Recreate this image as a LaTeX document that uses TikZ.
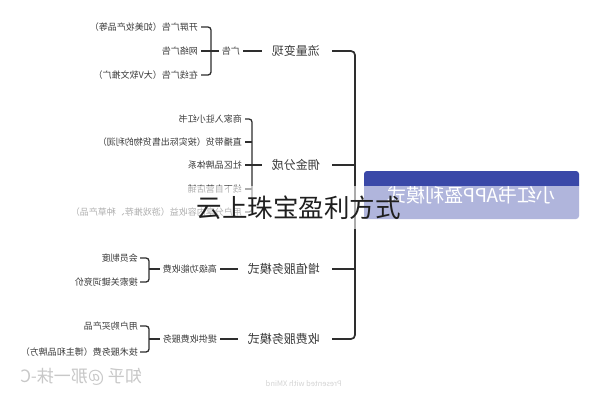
\documentclass[tikz,border=0pt]{standalone}
\usepackage{fontspec}
\setmainfont{Noto Sans CJK SC}
\definecolor{rootblue}{HTML}{3A48A8}
\definecolor{linec}{HTML}{2E2E2E}
\definecolor{txtc}{HTML}{3A3A3A}
\definecolor{wmc}{HTML}{C8C8C8}
\definecolor{xmc}{HTML}{D4D4D4}
\tikzset{
  rootbox/.style={fill=rootblue, text=white, rounded corners=3pt, minimum width=215pt, minimum height=48pt, inner sep=0pt, font=\fontsize{19}{22}\selectfont},
  lvlone/.style={anchor=west, inner sep=0pt, text=txtc, font=\fontsize{12}{14}\selectfont},
  leaf/.style={anchor=west, inner sep=0pt, text=txtc, font=\fontsize{9}{11}\selectfont},
  mainline/.style={draw=linec, line width=1.7pt, rounded corners=4pt},
  midline/.style={draw=linec, line width=1.7pt},
  subline/.style={draw=linec, line width=1.3pt, rounded corners=3pt},
}
\begin{document}
\begin{tikzpicture}[x=1pt,y=-1pt]
\fill[white] (0,0) rectangle (596,400);
\useasboundingbox (0,0) rectangle (596,400);
\begin{scope}[xshift=596pt,xscale=-1,transform shape]
  % root and hub
  \node[rootbox] (root) at (124.5,195) {小红书APP盈利模式};
  \coordinate (hub) at (241,195);
  % level one
  \node[lvlone] (a) at (276,51) {流量变现};
  \node[lvlone] (b) at (276,165) {佣金分成};
  \node[lvlone] (c) at (276,269) {增值服务模式};
  \node[lvlone] (d) at (276,339) {收费服务模式};
  \draw[mainline] ([xshift=-12pt]a.west) -| (hub) |- ([xshift=-12pt]d.west);
  \draw[mainline] (hub |- b.west) -- ([xshift=-12pt]b.west);
  \draw[mainline] (hub |- c.west) -- ([xshift=-12pt]c.west);
  % branch a
  \node[leaf] (a0) at (356,51) {广告};
  \draw[midline] ([xshift=10pt]a.east) -- ([xshift=-3pt]a0.west);
  \node[leaf] (a1) at (398,27) {开屏广告（如美妆产品等）};
  \node[leaf] (a2) at (398,51) {网络广告};
  \node[leaf] (a3) at (398,75) {在线广告（大V软文推广）};
  \coordinate (abus) at (385,51);
  \draw[subline] ([xshift=3pt]a0.east) -- ([xshift=-3pt]a2.west);
  \draw[subline] ([xshift=-3pt]a1.west) -| (abus) |- ([xshift=-3pt]a3.west);
  % branch b
  \node[leaf] (b1) at (354,119) {商家入驻小红书};
  \node[leaf] (b2) at (354,142) {直播带货（按实际出售货物的利润）};
  \node[leaf] (b3) at (354,165) {社区品牌体系};
  \node[leaf] (b4) at (354,189) {线下自营店铺};
  \node[leaf] (b5) at (354,212) {用户分享内容收益（游戏推荐、种草产品）};
  \coordinate (bbus) at (344,165);
  \draw[subline] ([xshift=10pt]b.east) -- ([xshift=-3pt]b3.west);
  \draw[subline] ([xshift=-3pt]b1.west) -| (bbus) |- ([xshift=-3pt]b5.west);
  \draw[subline] (bbus |- b2.west) -- ([xshift=-3pt]b2.west);
  \draw[subline] (bbus |- b4.west) -- ([xshift=-3pt]b4.west);
  % branch c
  \node[leaf] (c0) at (379,269) {高级功能收费};
  \draw[midline] ([xshift=10pt]c.east) -- ([xshift=-3pt]c0.west);
  \node[leaf] (c1) at (458,258) {会员制度};
  \node[leaf] (c2) at (458,282) {搜索关键词竞价};
  \coordinate (cbus) at (447,269);
  \draw[subline] ([xshift=3pt]c0.east) -- (cbus);
  \draw[subline] ([xshift=-2pt]c1.west) -| (cbus) |- ([xshift=-2pt]c2.west);
  % branch d
  \node[leaf] (d0) at (379,339) {提供收费服务};
  \draw[midline] ([xshift=10pt]d.east) -- ([xshift=-3pt]d0.west);
  \node[leaf] (d1) at (458,326) {用户购买产品};
  \node[leaf] (d2) at (458,352) {技术服务费（博主和品牌方）};
  \coordinate (dbus) at (447,339);
  \draw[subline] ([xshift=3pt]d0.east) -- (dbus);
  \draw[subline] ([xshift=-2pt]d1.west) -| (dbus) |- ([xshift=-2pt]d2.west);
  % watermarks
  \node[anchor=west, inner sep=0pt, text=wmc, font=\fontsize{17}{20}\selectfont] (wmk) at (454,377) {知乎 @那一抹-C};
  \node[anchor=west, inner sep=0pt, text=xmc, font=\fontsize{7.5}{9}\selectfont] (xm) at (254,384) {Presented with XMind};
\end{scope}
% overlay band and title
\fill[white, opacity=0.6] (0,186) rectangle (596,229);
\node[inner sep=0pt, text=black!88, font=\fontsize{25.5}{28}\selectfont] (ov) at (298.5,208) {云上珠宝盈利方式};
\end{tikzpicture}
\end{document}
